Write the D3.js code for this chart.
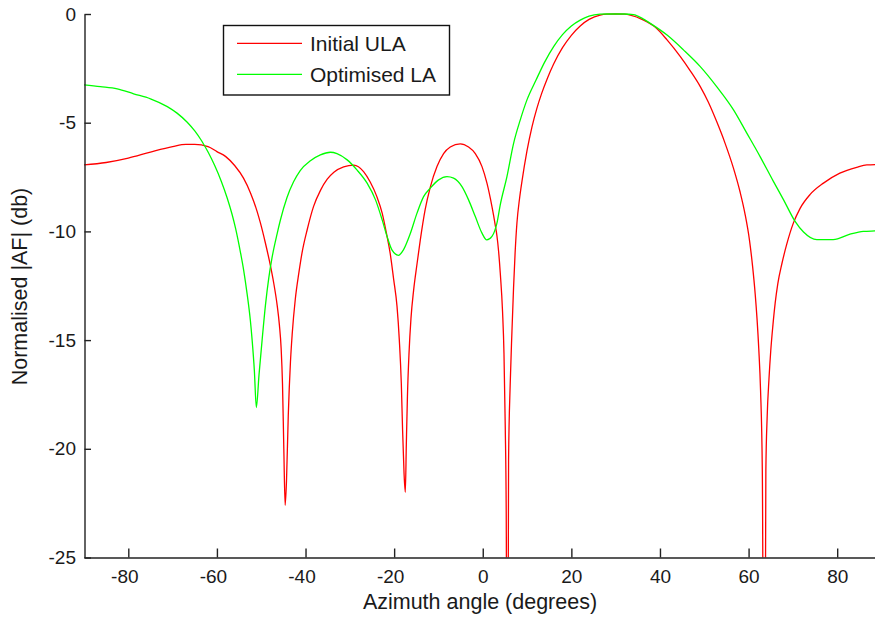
<!DOCTYPE html>
<html>
<head>
<meta charset="utf-8">
<script src="https://cdn.jsdelivr.net/npm/d3@7"></script>
<style>
  html, body { margin: 0; padding: 0; background: #fff; }
  svg { display: block; }
  text { font-family: "Liberation Sans", Arial, Helvetica, sans-serif; fill: #1a1a1a; }
</style>
</head>
<body>
<svg id="chart" width="875" height="623"></svg>
<script>
// ---- Data ----
const seriesNames = ["Initial ULA", "Optimised LA"];
const seriesColors = ["#ff0000", "#00ff00"];

const xTicks = [-80, -60, -40, -20, 0, 20, 40, 60, 80];
const yTicks = [0, -5, -10, -15, -20, -25];

const redAngles = [-90,-85,-80,-75,-70,-67,-65,-62,-60,-58,-56,-54,-52.4,-50.9,-50.2,-49.1,-47.9,-47.2,-46.4,-45.9,-45.5,-45.2,-44.9,-44.6,-44.3,-43.9,-43.4,-43.0,-42.3,-41.5,-40.8,-39.6,-38.2,-36.6,-35.1,-33.6,-31.4,-29.1,-26.9,-25.4,-23.9,-22.7,-21.6,-20.9,-20.1,-19.35,-18.83,-18.38,-18.1,-17.77,-17.48,-17.25,-17.0,-16.64,-16.2,-15.6,-14.84,-14.1,-13.0,-11.84,-10.33,-8.84,-7.33,-5.07,-3.2,-1.68,-0.17,0.95,2.08,2.83,3.2,3.57,3.95,4.47,4.79,5.08,5.3,5.55,5.83,6.2,6.59,6.95,7.3,7.72,8.3,8.85,9.98,11.1,12.2,13.3,14.6,16,18,20,22,24,26.5,28,30,32,33.3,36.3,38.9,41.6,44.6,46.8,49.1,50.9,52.8,54.7,56.6,58.1,59.2,60.2,60.9,61.5,61.9,62.3,62.7,63.1,63.55,63.9,64.2,64.6,65.0,65.5,66.0,66.6,67.5,68.6,70.1,71.6,73.9,76.9,80.6,84.4,86.7,90];
const redValues = [-6.94,-6.83,-6.63,-6.35,-6.1,-6.0,-6.0,-6.1,-6.33,-6.56,-6.97,-7.55,-8.24,-9.1,-9.6,-10.5,-11.6,-12.35,-13.4,-14.3,-15.4,-17.0,-20.0,-22.6,-21.5,-18.5,-16.0,-14.7,-13.1,-11.9,-11.0,-9.9,-8.86,-8.1,-7.6,-7.28,-7.03,-6.95,-7.25,-7.73,-8.4,-9.16,-10.23,-11.0,-12.22,-13.45,-15.0,-17.0,-19.1,-21.1,-22.0,-19.8,-17.6,-15.6,-14.0,-12.7,-11.5,-10.4,-9.0,-7.96,-7.02,-6.42,-6.12,-5.97,-6.12,-6.42,-7.02,-7.78,-8.86,-9.72,-10.2,-10.9,-11.9,-13.7,-15.6,-19.0,-23.0,-40.0,-20.5,-17.0,-14.6,-12.6,-11.0,-9.6,-8.5,-7.7,-6.3,-5.2,-4.35,-3.65,-2.95,-2.3,-1.55,-0.98,-0.55,-0.25,-0.05,-0.01,0,-0.01,-0.05,-0.28,-0.6,-1.19,-1.96,-2.6,-3.34,-4.05,-4.95,-5.95,-7.1,-8.2,-9.2,-10.4,-11.6,-12.9,-14.0,-15.4,-17.3,-21.0,-40.0,-21.0,-18.5,-16.8,-15.5,-14.3,-13.3,-12.4,-11.5,-10.6,-9.62,-8.95,-8.3,-7.78,-7.32,-7.05,-6.94,-6.92];

const greenAngles = [-90,-86.3,-82.5,-78.8,-75,-71.2,-69,-66.7,-65,-63.5,-62,-60.5,-59,-57.7,-56.6,-55.8,-54.7,-53.95,-53.2,-52.45,-52.05,-51.55,-51.1,-50.5,-49.8,-49.05,-48.3,-47.55,-46.4,-45.7,-44.2,-42.7,-41.2,-38.9,-36.65,-34.4,-32.9,-30.6,-28.4,-26.1,-24.2,-22.7,-21.6,-20.5,-19.0,-17.9,-16.35,-14.84,-13.35,-11.84,-9.96,-8.07,-6.58,-4.69,-3.2,-1.68,-0.17,0.9,2.08,3.2,3.95,5.46,6.95,8.47,9.98,12,14,16,18,20,22,24,26.5,28,30,32,34,36,37.8,41.6,45.3,49.1,52.8,56.6,59.6,62.6,65.6,67.9,70.5,72.4,75.4,79.1,82.9,85.9,88.5,90];
const greenValues = [-3.26,-3.34,-3.44,-3.67,-3.9,-4.26,-4.56,-4.98,-5.38,-5.82,-6.35,-6.97,-7.7,-8.45,-9.2,-9.85,-10.95,-11.8,-12.85,-14.1,-15.0,-16.4,-18.1,-16.6,-15.0,-13.4,-12.15,-11.2,-10.1,-9.5,-8.45,-7.72,-7.2,-6.75,-6.48,-6.36,-6.42,-6.71,-7.17,-7.78,-8.55,-9.47,-10.23,-10.85,-11.1,-10.85,-10.1,-9.16,-8.4,-8.01,-7.63,-7.48,-7.55,-7.94,-8.55,-9.32,-10.08,-10.39,-10.23,-9.62,-8.78,-7.48,-5.96,-4.87,-3.95,-3.05,-2.2,-1.5,-0.95,-0.55,-0.28,-0.1,-0.01,0,0,0,-0.03,-0.2,-0.43,-0.97,-1.65,-2.42,-3.34,-4.41,-5.48,-6.56,-7.7,-8.55,-9.54,-10.03,-10.38,-10.38,-10.13,-10.0,-9.98,-9.97];

const xLabel = "Azimuth angle (degrees)";
const yLabel = "Normalised |AF| (db)";

// ---- Layout ----
const svg = d3.select("#chart");
const x = d3.scaleLinear().domain([-90, 90]).range([84, 881.5]);
const y = d3.scaleLinear().domain([-25, 0]).range([557.5, 14]);
const axisColor = "#222";
const tickFont = 19;
const labelFont = 21.5;
const legendFont = 21;

// Clip for curves
svg.append("defs").append("clipPath").attr("id", "plotClip")
  .append("rect").attr("x", 84).attr("y", 12).attr("width", 800).attr("height", 545.5);

const series = [
  { name: seriesNames[0], color: seriesColors[0], pts: redAngles.map((a, i) => [a, redValues[i]]) },
  { name: seriesNames[1], color: seriesColors[1], pts: greenAngles.map((a, i) => [a, greenValues[i]]) }
];

const line = d3.line().x(d => x(d[0])).y(d => y(d[1])).curve(d3.curveMonotoneX);

svg.append("g").attr("clip-path", "url(#plotClip)")
  .selectAll("path").data(series).join("path")
  .attr("d", d => line(d.pts))
  .attr("fill", "none")
  .attr("stroke", d => d.color)
  .attr("stroke-width", 1.3)
  .attr("stroke-linejoin", "round");

// X axis
const xAxis = svg.append("g").attr("transform", "translate(0,557.5)")
  .call(d3.axisBottom(x).tickValues(xTicks).tickSizeInner(-9).tickSizeOuter(0)
    .tickPadding(12).tickFormat(d => String(d)));
xAxis.select(".domain").attr("stroke", axisColor).attr("stroke-width", 1.4);
xAxis.selectAll(".tick line").attr("stroke", axisColor).attr("stroke-width", 1.4);
xAxis.selectAll(".tick text").attr("font-size", tickFont).attr("fill", "#1a1a1a")
  .attr("font-family", "Liberation Sans, Arial, sans-serif")
  .attr("dx", d => d < 0 ? -4 : 0);

// Y axis
const yAxis = svg.append("g").attr("transform", "translate(84.5,0)")
  .call(d3.axisLeft(y).tickValues(yTicks).tickSizeInner(-6.5).tickSizeOuter(0)
    .tickPadding(8.5).tickFormat(d => String(d)));
yAxis.select(".domain").attr("stroke", axisColor).attr("stroke-width", 1.4);
yAxis.selectAll(".tick line").attr("stroke", axisColor).attr("stroke-width", 1.4);
yAxis.selectAll(".tick text").attr("font-size", tickFont).attr("fill", "#1a1a1a")
  .attr("font-family", "Liberation Sans, Arial, sans-serif");

// Axis labels
svg.append("text").attr("x", 480).attr("y", 609).attr("text-anchor", "middle")
  .attr("font-size", labelFont).text(xLabel);
svg.append("text").attr("transform", "translate(27,286.5) rotate(-90)")
  .attr("text-anchor", "middle").attr("font-size", labelFont).text(yLabel);

// Legend
const legend = svg.append("g");
legend.append("rect").attr("x", 223.5).attr("y", 25.5).attr("width", 226).attr("height", 69.5)
  .attr("fill", "#fff").attr("stroke", "#111").attr("stroke-width", 1.4);
const rowY = [43.3, 74.3];
const rows = legend.selectAll("g.row").data(series).join("g").attr("class", "row");
rows.append("line").attr("x1", 237).attr("x2", 302)
  .attr("y1", (d, i) => rowY[i]).attr("y2", (d, i) => rowY[i])
  .attr("stroke", d => d.color).attr("stroke-width", 1.3);
rows.append("text").attr("x", 310).attr("y", (d, i) => rowY[i] + 8)
  .attr("font-size", legendFont).text(d => d.name);
</script>
</body>
</html>
